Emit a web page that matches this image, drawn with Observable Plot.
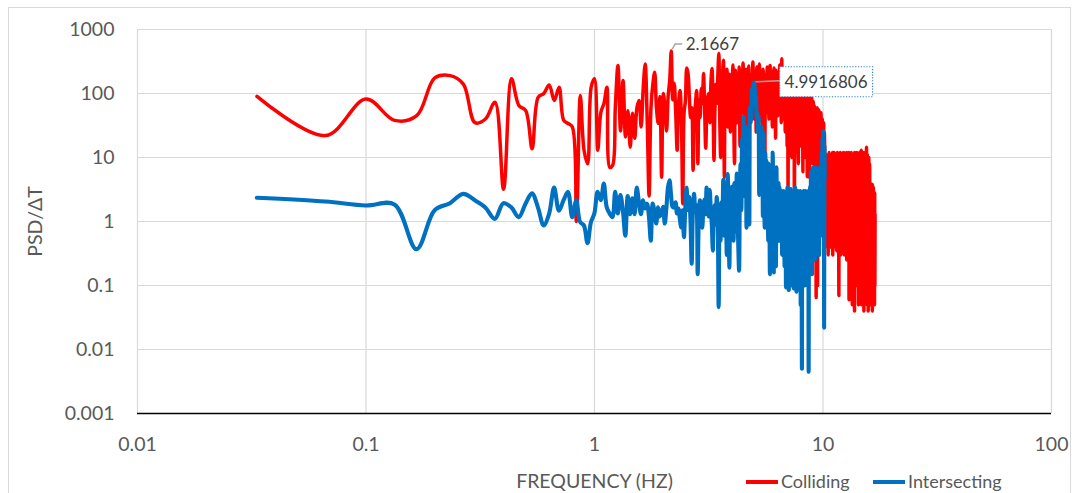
<!DOCTYPE html>
<html>
<head>
<meta charset="utf-8">
<script src="https://cdn.jsdelivr.net/npm/d3@7"></script>
<script src="https://cdn.jsdelivr.net/npm/@observablehq/plot@0.6"></script>
<style>
  html, body { margin: 0; padding: 0; background: #fff; }
  #chart { position: relative; width: 1078px; height: 493px; overflow: hidden; }
  #chart svg { position: absolute; left: 0; top: 0; }
  #frame { position: absolute; left: 8px; top: 7px; width: 1061px; height: 560px;
           border: 1px solid #d9d9d9; pointer-events: none; }
</style>
</head>
<body>
<div id="chart"><div id="frame"></div></div>
<script>
// Axis ticks and their printed labels
const xTicks = [0.01, 0.1, 1, 10, 100];
const xTickLabels = ["0.01", "0.1", "1", "10", "100"];
const yTicks = [0.001, 0.01, 0.1, 1, 10, 100, 1000];
const yTickLabels = ["0.001", "0.01", "0.1", "1", "10", "100", "1000"];
const xTitle = "FREQUENCY (HZ)";
const yTitle = "PSD/ΔT";

const seriesNames = ["Colliding", "Intersecting"];
const seriesColors = ["#ff0000", "#0070c0"];

// Labelled peaks: frequency (Hz) and the spectral bin it falls on.
// The bin spacing of each record follows from these.
const collidingPeakFreq = 2.1667, collidingPeakBin = 65;
const intersectingPeakFreq = 4.9916806, intersectingPeakBin = 150;

// PSD/ΔT per spectral bin, starting at bin 1
const collidingPsd = [
  90, 22, 82, 38, 45, 175, 190, 140, 35, 40,
  73, 3.2, 170, 65, 54, 13.7, 87, 100, 136, 78,
  125, 38, 34, 30, 1.0, 93, 13, 8, 125, 170,
  13, 51, 70, 125, 7, 7.5, 61, 275, 26, 160,
  21, 54, 14.5, 49, 20, 60, 78, 30, 120, 290,
  40, 2.5, 60, 140, 215, 60, 34, 90, 4.9, 100,
  60, 26, 90, 160, 460, 80, 145, 50, 13, 70,
  111, 40, 1.9, 50, 78, 250, 205, 90, 42, 60,
  6.3, 40, 70, 111, 8, 80, 42, 120, 70, 205,
  60, 14, 50, 90, 100, 35, 150, 245, 80, 9,
  60, 140, 70, 200, 420, 40, 10, 60, 180, 330,
  4.9, 150, 60, 240, 30, 110, 200, 25, 160, 90,
  280, 40, 8, 230, 120, 35, 190, 70, 260, 15,
  140, 210, 50, 300, 90, 20, 180, 240, 60, 150,
  30, 270, 110, 200, 45, 160, 80, 310, 120, 40,
  220, 150, 25, 260, 90, 180, 35, 290, 140, 60,
  210, 110, 30, 240, 170, 80, 4.4, 200, 130, 50,
  260, 90, 180, 40, 150, 275, 70, 120, 220, 30,
  190, 100, 250, 60, 140, 20, 230, 80, 170, 45,
  210, 120, 60, 280, 90, 150, 35, 350, 110, 70,
  190, 40, 130, 220, 25, 160, 70, 110, 15, 180,
  3.4, 120, 200, 50, 140, 30, 170, 90, 10, 150,
  60, 130, 20, 180, 0.6, 100, 61, 150, 12, 90,
  140, 40, 110, 8, 130, 70, 25, 120, 50, 100,
  15, 110, 60, 90, 6, 120, 40, 80, 20, 100,
  70, 10, 90, 45, 110, 5, 80, 30, 60, 95,
  20, 4.9, 70, 40, 90, 12, 60, 85, 25, 50,
  8, 75, 54, 30, 65, 6, 50, 40, 15, 0.065,
  45, 20, 60, 0.1, 35, 50, 10, 55, 25, 40,
  5, 45, 30, 50, 12, 35, 25, 40, 8, 30,
  20, 35, 6, 25, 15, 0.4, 9, 2, 0.6, 11,
  1.2, 5, 0.5, 10, 3, 0.3, 8, 1.5, 12, 0.7,
  4, 9, 0.4, 6, 2, 11, 0.5, 7, 1.8, 12,
  0.3, 5, 10, 0.9, 3, 12, 0.6, 8, 0.4, 2.5,
  11, 1.2, 6, 0.35, 9, 3, 12, 0.5, 7, 1.5,
  10, 0.07, 4, 11, 0.8, 6, 12, 0.3, 2, 9,
  0.5, 11, 1.4, 5, 0.35, 10, 2.5, 0.6, 12, 4,
  0.3, 8, 1.1, 11, 0.45, 3, 10, 0.8, 6, 12,
  0.25, 2, 9, 0.5, 11, 1.5, 0.3, 7, 12, 0.06,
  4, 10, 0.4, 2.5, 11, 0.7, 6, 0.2, 12, 1.2,
  3, 9, 0.05, 8, 0.5, 11, 2, 0.3, 10, 0.8,
  5, 0.04, 12, 1.5, 0.4, 9, 3, 0.15, 11, 0.6,
  6, 12, 0.1, 2, 8, 0.3, 10, 1.2, 0.05, 9,
  4, 0.5, 12, 0.08, 6, 2, 11, 0.2, 7, 0.6,
  13, 0.05, 3, 9, 0.4, 10, 1.5, 0.1, 12, 5,
  0.3, 8, 0.04, 11, 2, 0.6, 9, 0.2, 12, 3,
  0.07, 10, 1, 6, 14.5, 0.3, 8, 0.05, 11, 2,
  0.5, 9, 0.04, 7, 1.2, 10, 0.2, 5, 0.06, 8,
  0.4, 4, 0.05, 3.5, 0.8, 3.9, 0.1, 2, 0.05, 3.4,
  0.6, 1.5, 0.04, 3.8, 0.3, 2.5, 0.05, 3.4, 0.8, 0.06,
  3, 0.2, 1.3, 0.05, 2.8, 0.1, 1.3
];

const intersectingPsd = [
  2.35, 2.05, 1.78, 1.85, 0.37, 1.5, 1.93, 2.7, 2.15, 1.66,
  1.1, 1.93, 1.66, 1.17, 1.9, 2.75, 1.66, 0.87, 1.3, 3.4,
  1.48, 2.15, 2.9, 1.17, 2.15, 0.98, 0.87, 0.46, 0.98, 1.33,
  2.9, 2.15, 3.9, 1.66, 1.33, 1.17, 2.9, 1.33, 2.6, 1.48,
  0.6, 2.5, 1.3, 2.3, 1.3, 3.4, 2.0, 1.3, 2.15, 1.6,
  1.9, 1.2, 0.5, 1.9, 1.4, 0.93, 1.66, 1.2, 1.33, 1.7,
  0.93, 1.6, 3.4, 4.4, 2.6, 1.7, 1.66, 2.0, 1.33, 1.6,
  1.1, 0.81, 1.5, 0.57, 1.6, 3.4, 1.5, 2.4, 1.1, 0.22,
  1.5, 2.7, 1.4, 1.8, 0.15, 1.2, 2.15, 1.3, 0.8, 1.6,
  2.2, 1.3, 3.4, 2.0, 1.2, 3.1, 1.5, 0.9, 0.35, 1.3,
  1.8, 0.9, 2.4, 1.1, 0.046, 1.2, 0.5, 2.0, 1.0, 4.5,
  0.6, 2.5, 1.3, 0.3, 5.5, 1.8, 0.19, 2.2, 0.9, 3.5,
  1.2, 0.5, 4.0, 2.0, 0.7, 5.6, 1.5, 0.4, 0.17, 3.0,
  8, 1.5, 20, 4, 43, 2.5, 12, 18, 0.8, 30,
  1.0, 25, 0.9, 61, 35, 50, 120, 70, 130, 150,
  126, 60, 90, 40, 50, 25, 43, 2.6, 25, 6,
  2.7, 30, 16, 1.2, 24, 4, 0.8, 12, 2, 9,
  1.0, 6, 0.5, 8, 2, 0.15, 7, 1.2, 4, 0.3,
  12, 2, 0.16, 5, 1.5, 3, 0.2, 7, 1, 2.4,
  0.5, 4, 1.2, 3.4, 0.5, 2.5, 0.8, 3, 0.3, 2,
  0.6, 3, 1.5, 0.2, 2.8, 0.9, 0.093, 2.4, 1.2, 3.4,
  0.4, 2, 0.085, 3, 1, 0.5, 3.2, 0.1, 2, 0.8,
  3, 0.3, 1.5, 0.09, 2.5, 1, 3.4, 0.2, 1.8, 0.08,
  2.5, 0.6, 3, 1.2, 0.15, 2.8, 0.4, 1.5, 3, 0.05,
  2, 0.7, 0.005, 2.5, 1, 0.3, 3, 0.6, 2.2, 0.1,
  1.5, 3, 0.4, 2, 0.8, 2.8, 0.2, 1.2, 3, 0.0045,
  2.5, 0.5, 1.5, 3.5, 0.3, 6, 1, 2.5, 0.15, 4,
  1.2, 7, 0.5, 3, 1.8, 5, 0.25, 2.5, 7, 1,
  0.4, 4, 2, 6, 0.8, 3, 1.5, 5, 0.3, 2.5,
  7, 1.2, 3, 0.6, 5, 2, 12, 1, 20, 3,
  26, 2, 8, 0.022, 15, 5
];

// Rows on the FFT frequency grid of each record
const collidingDf = collidingPeakFreq / collidingPeakBin;
const intersectingDf = intersectingPeakFreq / intersectingPeakBin;
const colliding = collidingPsd.map((v, i) => ({f: (i + 1) * collidingDf, v}));
const intersecting = intersectingPsd.map((v, i) => ({f: (i + 1) * intersectingDf, v}));

const FONT = "Lato, 'Open Sans', sans-serif";
const GREY = "#595959";

const plot = Plot.plot({
  width: 1078,
  height: 493,
  marginLeft: 137,
  marginRight: 27,
  marginTop: 29,
  marginBottom: 80,
  style: {fontFamily: FONT, fontSize: "19.5px", color: GREY, background: "transparent", overflow: "visible"},
  x: {type: "log", domain: [xTicks[0], xTicks[xTicks.length - 1]]},
  y: {type: "log", domain: [yTicks[0], yTicks[yTicks.length - 1]]},
  marks: [
    Plot.gridX(xTicks, {stroke: "#d9d9d9", strokeOpacity: 1, strokeWidth: 1.2}),
    Plot.gridY(yTicks.slice(1), {stroke: "#d9d9d9", strokeOpacity: 1, strokeWidth: 1.2}),
    Plot.ruleY([yTicks[0]], {stroke: "#000", strokeWidth: 1.3}),
    Plot.axisX(xTicks, {tickSize: 0, tickPadding: 24, label: null,
      tickFormat: (d) => xTickLabels[xTicks.indexOf(d)]}),
    Plot.axisY(yTicks, {tickSize: 0, tickPadding: 23, label: null,
      tickFormat: (d) => yTickLabels[yTicks.indexOf(d)]}),
    Plot.text([yTitle], {frameAnchor: "left", dx: -102, rotate: -90,
      textAnchor: "middle", lineAnchor: "middle", fill: GREY}),
    Plot.text([xTitle], {frameAnchor: "bottom", dy: 68,
      textAnchor: "middle", lineAnchor: "middle", fill: GREY}),
    Plot.line(colliding, {x: "f", y: "v", stroke: seriesColors[0], strokeWidth: 3.5,
      curve: "catmull-rom", strokeLinejoin: "round", strokeLinecap: "round"}),
    Plot.line(intersecting, {x: "f", y: "v", stroke: seriesColors[1], strokeWidth: 4.1,
      curve: "catmull-rom", strokeLinejoin: "round", strokeLinecap: "round"})
  ]
});

document.getElementById("chart").appendChild(plot);

const svg = d3.select(plot);
const sx = plot.scale("x"), sy = plot.scale("y");

// Peak call-outs, placed from the data through the plot's scales
{
  const px = sx.apply(collidingPeakFreq);
  const py = sy.apply(collidingPsd[collidingPeakBin - 1]);
  svg.append("path")
    .attr("d", `M${px + 1.5},${py - 1.5}L${px + 4.5},${py - 6.5}H${px + 11.5}`)
    .attr("fill", "none").attr("stroke", "#a6a6a6").attr("stroke-width", 1.5);
  svg.append("text")
    .attr("x", px + 15).attr("y", py - 6.5).attr("dy", "0.35em")
    .attr("text-anchor", "start")
    .attr("font-family", FONT).attr("font-size", 17).attr("fill", "#404040")
    .text(String(collidingPeakFreq));
}
{
  const px = sx.apply(intersectingPeakFreq);
  const py = sy.apply(intersectingPsd[intersectingPeakBin - 1]);
  svg.append("path")
    .attr("d", `M${px + 2},${py}L${px + 26},${py - 1}`)
    .attr("fill", "none").attr("stroke", "#a6a6a6").attr("stroke-width", 1.5);
  svg.append("rect")
    .attr("x", px + 26).attr("y", py - 15).attr("width", 93).attr("height", 30)
    .attr("fill", "#fff").attr("stroke", "#2e7fd6").attr("stroke-width", 1.2)
    .attr("stroke-dasharray", "1.2,1.6");
  svg.append("text")
    .attr("x", px + 72.5).attr("y", py).attr("dy", "0.35em").attr("text-anchor", "middle")
    .attr("font-family", FONT).attr("font-size", 17).attr("fill", "#404040")
    .text(String(intersectingPeakFreq));
}

// Legend below the plot
const legend = svg.append("g").attr("font-family", FONT).attr("font-size", 18)
  .attr("fill", GREY).attr("text-anchor", "start");
const legendX = [746, 873];
seriesNames.forEach((name, i) => {
  const x0 = legendX[i];
  legend.append("line").attr("x1", x0).attr("x2", x0 + 32).attr("y1", 482).attr("y2", 482)
    .attr("stroke", seriesColors[i]).attr("stroke-width", 4);
  legend.append("text").attr("x", x0 + 35).attr("y", 482).attr("dy", "0.35em")
    .attr("text-anchor", "start").text(name);
});
</script>
</body>
</html>
